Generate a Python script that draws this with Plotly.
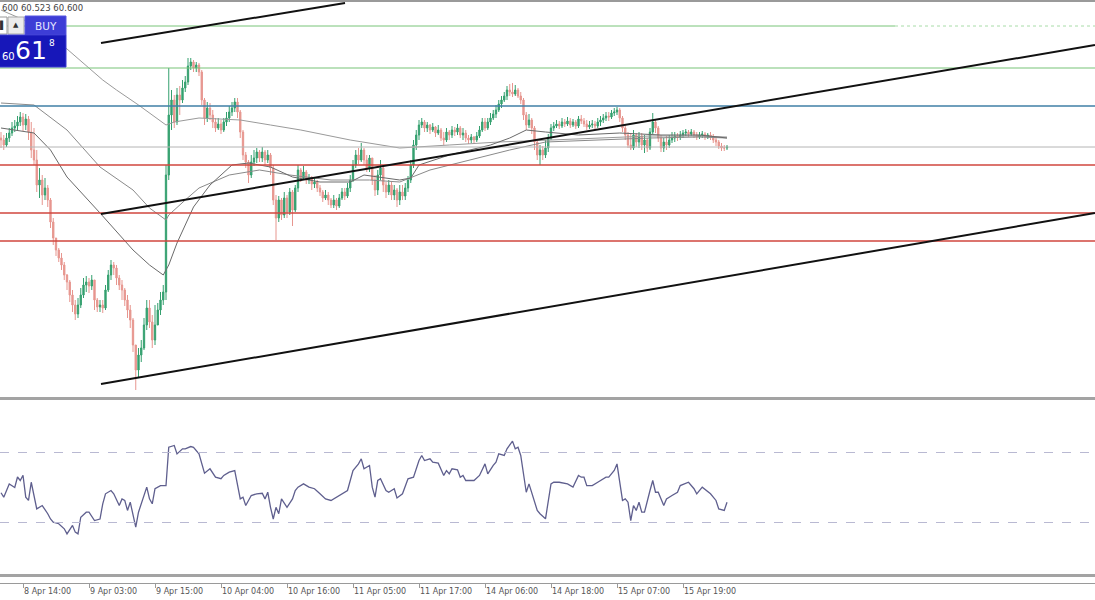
import plotly.graph_objects as go

W, H = 1095, 600

# ---------------- data (M30 bars, index 0 = first visible bar) ----------------
open_first = 60.74
close = [
    60.70, 60.60, 60.74, 60.84, 60.94, 60.98, 61.06, 61.16, 61.00, 61.12,
    60.86, 60.50, 60.30, 59.80, 59.90, 59.60, 59.74, 59.50, 59.06, 58.74,
    58.50, 58.34, 58.20, 58.00, 57.86, 57.60, 57.40, 57.22, 57.40, 57.60,
    57.80, 57.86, 57.78, 57.90, 57.50, 57.36, 57.40, 57.34, 57.70, 58.00,
    58.20, 58.14, 57.94, 57.80, 57.70, 57.50, 57.30, 57.10, 56.60, 56.10,
    56.40, 56.54, 57.00, 57.34, 57.06, 56.70, 57.00, 57.30, 57.50, 57.66,
    60.00, 61.20, 61.50, 61.06, 61.60, 61.50, 61.74, 61.86, 62.18, 62.26,
    62.14, 62.20, 62.06, 61.50, 61.14, 61.34, 61.20, 61.06, 60.94, 61.02,
    60.90, 61.06, 61.14, 61.26, 61.34, 61.46, 61.26, 60.86, 60.40, 60.26,
    60.00, 60.26, 60.34, 60.46, 60.34, 60.46, 60.30, 60.40, 60.14, 59.50,
    59.14, 59.50, 59.20, 59.54, 59.26, 59.66, 59.30, 59.74, 60.10, 59.94,
    60.06, 59.90, 59.94, 59.82, 59.86, 59.74, 59.66, 59.54, 59.60, 59.50,
    59.40, 59.50, 59.38, 59.54, 59.66, 59.58, 59.74, 59.90, 60.20, 60.40,
    60.30, 60.50, 60.30, 60.14, 60.34, 59.90, 59.70, 60.00, 60.14, 59.80,
    59.66, 59.80, 59.60, 59.70, 59.50, 59.66, 59.58, 59.74, 59.90, 60.20,
    60.60, 60.80, 61.00, 61.06, 60.94, 61.00, 60.90, 60.96, 60.84, 60.90,
    60.74, 60.70, 60.86, 60.80, 60.90, 60.86, 60.94, 60.80, 60.84, 60.74,
    60.70, 60.76, 60.70, 60.78, 60.90, 61.06, 60.94, 61.06, 61.14, 61.22,
    61.30, 61.42, 61.50, 61.58, 61.70, 61.66, 61.62, 61.70, 61.58, 61.50,
    61.20, 61.00, 61.10, 60.94, 60.66, 60.40, 60.50, 60.40, 60.54, 60.74,
    60.94, 60.98, 61.02, 60.98, 61.06, 61.02, 61.08, 61.00, 61.06, 60.98,
    61.12, 61.08, 61.02, 60.96, 61.00, 61.02, 60.98, 61.06, 61.10, 61.14,
    61.18, 61.16, 61.24, 61.26, 61.30, 61.14, 60.94, 60.80, 60.60, 60.54,
    60.80, 60.66, 60.78, 60.60, 60.70, 60.54, 60.86, 61.06, 60.94, 60.74,
    60.54, 60.66, 60.60, 60.70, 60.74, 60.78, 60.76, 60.80, 60.84, 60.86,
    60.82, 60.86, 60.80, 60.76, 60.80, 60.82, 60.76, 60.80, 60.76, 60.70,
    60.66, 60.58, 60.54, 60.54, 60.56,
]
high = [
    60.86, 60.80, 60.84, 60.94, 61.06, 61.10, 61.18, 61.26, 61.24, 61.22,
    61.18, 61.06, 60.94, 60.50, 60.14, 60.00, 59.94, 59.80, 59.54, 59.14,
    58.74, 58.54, 58.44, 58.26, 58.02, 57.90, 57.70, 57.50, 57.54, 57.74,
    57.94, 57.98, 57.94, 58.00, 57.90, 57.54, 57.50, 57.50, 57.80, 58.10,
    58.30, 58.26, 58.20, 58.00, 57.90, 57.74, 57.60, 57.40, 57.14, 56.60,
    56.54, 56.70, 57.14, 57.50, 57.50, 57.20, 57.40, 57.44, 57.66, 57.80,
    60.20, 62.14, 61.70, 61.60, 61.74, 61.78, 61.90, 61.98, 62.34, 62.34,
    62.30, 62.26, 62.24, 62.10, 61.54, 61.46, 61.44, 61.30, 61.14, 61.14,
    61.10, 61.14, 61.26, 61.38, 61.46, 61.54, 61.54, 61.30, 60.90, 60.46,
    60.30, 60.40, 60.50, 60.54, 60.50, 60.56, 60.50, 60.50, 60.44, 60.20,
    59.60, 59.58, 59.54, 59.66, 59.60, 59.74, 59.70, 59.80, 60.20, 60.14,
    60.18, 60.10, 60.02, 59.98, 59.94, 59.90, 59.80, 59.70, 59.70, 59.66,
    59.54, 59.60, 59.54, 59.62, 59.74, 59.74, 59.84, 60.00, 60.30, 60.50,
    60.54, 60.64, 60.54, 60.40, 60.40, 60.34, 60.00, 60.10, 60.30, 60.20,
    59.86, 59.90, 59.86, 59.80, 59.74, 59.80, 59.80, 59.84, 59.98, 60.30,
    60.70, 60.90, 61.10, 61.14, 61.10, 61.06, 61.02, 61.04, 60.98, 61.00,
    60.94, 60.86, 60.94, 60.90, 60.98, 60.96, 61.02, 60.98, 60.94, 60.90,
    60.80, 60.82, 60.78, 60.86, 60.98, 61.14, 61.14, 61.14, 61.24, 61.30,
    61.40, 61.50, 61.58, 61.66, 61.78, 61.82, 61.84, 61.80, 61.74, 61.66,
    61.54, 61.26, 61.22, 61.14, 60.98, 60.70, 60.60, 60.58, 60.70, 60.82,
    61.02, 61.06, 61.10, 61.08, 61.14, 61.12, 61.16, 61.14, 61.12, 61.10,
    61.18, 61.20, 61.14, 61.10, 61.08, 61.10, 61.08, 61.14, 61.18, 61.22,
    61.26, 61.26, 61.30, 61.34, 61.36, 61.34, 61.18, 61.00, 60.86, 60.82,
    60.90, 60.84, 60.86, 60.84, 60.80, 60.74, 60.94, 61.24, 61.12, 60.98,
    60.80, 60.74, 60.78, 60.80, 60.86, 60.86, 60.84, 60.88, 60.90, 60.92,
    60.90, 60.92, 60.90, 60.86, 60.86, 60.88, 60.86, 60.84, 60.86, 60.82,
    60.76, 60.70, 60.64, 60.60, 60.60,
]
low = [
    60.54, 60.50, 60.56, 60.66, 60.78, 60.86, 60.90, 60.98, 60.88, 60.90,
    60.70, 60.34, 60.20, 59.66, 59.54, 59.40, 59.50, 59.36, 58.94, 58.60,
    58.38, 58.26, 58.10, 57.90, 57.70, 57.46, 57.26, 57.10, 57.14, 57.34,
    57.54, 57.66, 57.64, 57.70, 57.30, 57.26, 57.26, 57.24, 57.30, 57.66,
    57.90, 58.00, 57.80, 57.70, 57.50, 57.38, 57.14, 56.94, 56.46, 55.70,
    55.94, 56.26, 56.50, 56.90, 56.94, 56.54, 56.60, 57.00, 57.20, 57.40,
    57.50, 59.90, 60.90, 60.94, 61.00, 61.20, 61.44, 61.66, 61.80, 62.10,
    62.06, 62.06, 61.98, 61.40, 61.00, 61.06, 61.10, 60.94, 60.86, 60.90,
    60.82, 60.86, 60.98, 61.06, 61.18, 61.26, 61.14, 60.74, 60.30, 60.14,
    59.84, 59.94, 60.18, 60.24, 60.26, 60.26, 60.20, 60.24, 60.00, 59.40,
    58.70, 59.06, 59.10, 59.14, 59.14, 59.20, 58.98, 59.26, 59.66, 59.86,
    59.90, 59.82, 59.82, 59.70, 59.74, 59.66, 59.58, 59.46, 59.50, 59.40,
    59.34, 59.34, 59.30, 59.34, 59.50, 59.50, 59.54, 59.66, 59.86, 60.14,
    60.22, 60.26, 60.20, 60.06, 60.06, 59.80, 59.58, 59.60, 59.90, 59.66,
    59.54, 59.60, 59.50, 59.50, 59.36, 59.40, 59.50, 59.50, 59.66, 59.84,
    60.14, 60.50, 60.70, 60.94, 60.86, 60.86, 60.82, 60.86, 60.76, 60.80,
    60.68, 60.60, 60.66, 60.70, 60.74, 60.78, 60.80, 60.74, 60.70, 60.66,
    60.62, 60.64, 60.62, 60.66, 60.74, 60.86, 60.88, 60.90, 61.00, 61.10,
    61.14, 61.26, 61.34, 61.46, 61.50, 61.58, 61.56, 61.58, 61.54, 61.42,
    61.10, 60.90, 60.94, 60.82, 60.50, 60.30, 60.20, 60.30, 60.34, 60.46,
    60.70, 60.88, 60.94, 60.92, 60.94, 60.96, 60.98, 60.94, 60.96, 60.92,
    60.94, 61.02, 60.96, 60.90, 60.92, 60.94, 60.92, 60.94, 60.98, 61.04,
    61.08, 61.08, 61.12, 61.18, 61.20, 61.06, 60.86, 60.70, 60.54, 60.50,
    60.50, 60.56, 60.54, 60.50, 60.44, 60.46, 60.50, 60.82, 60.84, 60.66,
    60.46, 60.46, 60.50, 60.54, 60.64, 60.66, 60.68, 60.70, 60.74, 60.78,
    60.76, 60.78, 60.74, 60.70, 60.72, 60.74, 60.70, 60.72, 60.70, 60.64,
    60.58, 60.52, 60.48, 60.48, 60.50,
]
bars = list(range(len(close)))
opens = [open_first] + close[:-1]

# moving averages (read at sample bars)
ma_fast_bar = [0, 12, 18, 24, 36, 48, 54, 59, 61, 64, 70, 76, 84, 90, 98, 106, 116, 127, 132,
               138, 145, 149, 152, 163, 178, 185, 191, 198, 210, 225, 240, 254, 264]
ma_fast_val = [60.94, 60.84, 60.50, 59.96, 59.24, 58.50, 58.20, 58.00, 58.20, 58.64, 59.36,
               59.80, 60.20, 60.24, 60.16, 59.96, 59.86, 59.86, 60.00, 59.96, 59.90, 59.94,
               60.20, 60.40, 60.60, 60.74, 60.90, 60.86, 60.80, 60.84, 60.80, 60.80, 60.74]
ma_mid_bar = [0, 12, 24, 36, 48, 54, 60, 61, 67, 72, 83, 94, 105, 120, 134, 145, 156, 170,
              185, 198, 218, 236, 254, 264]
ma_mid_val = [61.44, 61.40, 60.90, 60.16, 59.70, 59.34, 59.10, 59.20, 59.50, 59.74, 60.00,
              60.10, 60.00, 59.90, 59.90, 59.86, 60.10, 60.30, 60.50, 60.66, 60.70, 60.74,
              60.76, 60.74]
ma_slow_bar = [0, 10, 24, 37, 42, 50, 60, 63, 72, 87, 98, 109, 127, 145, 163, 181, 200, 218,
               236, 254, 264]
ma_slow_val = [63.30, 63.06, 62.52, 61.90, 61.70, 61.40, 61.00, 61.06, 61.14, 61.10, 61.00,
               60.90, 60.70, 60.54, 60.60, 60.66, 60.70, 60.74, 60.78, 60.78, 60.76]

# RSI (read at sample bars)
rsi_bar = [0, 1, 3, 5, 6, 7, 8, 9, 10, 11, 13, 14, 15, 17, 18, 19, 21, 23, 24, 26, 27, 28, 29,
           31, 32, 34, 36, 37, 38, 40, 41, 43, 44, 45, 46, 47, 49, 50, 53, 54, 55, 56, 58, 60,
           61, 63, 64, 66, 67, 69, 70, 72, 74, 76, 78, 80, 81, 83, 85, 87, 88, 89, 91, 93, 95,
           96, 97, 98, 99, 100, 101, 102, 104, 106, 107, 108, 110, 112, 114, 116, 118, 120,
           123, 126, 128, 130, 131, 132, 134, 135, 136, 137, 138, 140, 141, 143, 144, 146,
           148, 150, 152, 153, 154, 156, 157, 159, 161, 162, 163, 164, 166, 167, 168, 169,
           172, 174, 176, 177, 179, 180, 181, 183, 184, 186, 187, 188, 189, 191, 192, 195,
           196, 198, 200, 201, 203, 206, 208, 210, 211, 212, 213, 215, 217, 218, 220, 221,
           223, 224, 226, 227, 228, 229, 230, 231, 232, 233, 234, 236, 237, 238, 239, 241,
           242, 244, 246, 247, 249, 250, 252, 253, 255, 257, 258, 260, 261, 263, 264]
rsi_val = [47, 44.5, 52, 50, 56, 54, 57, 44.5, 42.6, 53, 37.8, 38.7, 39.7, 35, 32, 30.2, 29.3,
           26.4, 23.5, 28.3, 24.5, 23.5, 33, 35.9, 35.9, 31.1, 32, 40.7, 46.4, 48.3, 46.4,
           39.7, 43.5, 42.6, 36.9, 41.6, 27.3, 35.9, 50.2, 43.5, 40.7, 49.3, 51.1, 51.1, 73,
           74, 69.2, 72.1, 72.1, 73.4, 73, 69.2, 58.2, 60.7, 55.9, 55, 56.9, 58.8, 59.7, 43.5,
           44.5, 39.7, 45.4, 46.4, 46.7, 43.5, 47.3, 38.7, 32, 38.7, 35, 43.5, 38.7, 43.5,
           48.3, 50.2, 52.1, 50.2, 49.3, 46.4, 43.5, 42.6, 45.4, 48.3, 59.7, 63.5, 66.4, 60.7,
           62.6, 50.2, 44.5, 54, 55, 48.3, 47.3, 49.3, 44, 46.4, 55, 55.9, 65.4, 68.3, 65.4,
           66.4, 64.5, 63.9, 56.9, 59.7, 57.8, 60.7, 60.1, 55.9, 56.9, 54, 54, 56.9, 63.5,
           57.8, 62.6, 64.5, 69.2, 68.3, 72.1, 76.5, 72.1, 73, 68.3, 47.3, 52.1, 36.9, 35,
           32.1, 52.1, 53, 53, 52.1, 50.2, 56.9, 55.9, 55.9, 51.1, 51.1, 53, 54, 55.9, 55.9,
           59.7, 63.5, 42.6, 43.5, 41.6, 31.1, 39.7, 36.9, 41.6, 35.9, 35.9, 48.3, 54, 47.3,
           47.3, 39.7, 43.5, 45.4, 47.3, 51.1, 52.1, 53, 49.3, 46.4, 50.2, 47.3, 46.4, 42.6,
           37.8, 36.9, 41.6]
rsi_levels = [70, 30]

# horizontal levels and channel lines (price units)
green_levels = [62.98, 62.14]
blue_levels = [61.38]
gray_levels = [60.56]
red_levels = [60.20, 59.24, 58.68]
trend_x0 = [36.36, 36.36, 36.36]
trend_y0 = [62.64, 59.22, 55.82]
trend_x1 = [125.1, 397.8, 397.8]
trend_y1 = [63.44, 62.60, 59.24]

tick_bars = [8, 32, 56, 80, 104, 128, 152, 176, 200, 224, 248]
tick_text = ["8 Apr 14:00", "9 Apr 03:00", "9 Apr 15:00", "10 Apr 04:00", "10 Apr 16:00",
             "11 Apr 05:00", "11 Apr 17:00", "14 Apr 06:00", "14 Apr 18:00", "15 Apr 07:00",
             "15 Apr 19:00"]

# ---------------- figure ----------------
def px(xp):
    return xp / W

def py(yp):
    return 1 - yp / H

fig = go.Figure()
fig.add_trace(go.Candlestick(
    x=bars, open=opens, high=high, low=low, close=close,
    increasing=dict(line=dict(color="#35a06f", width=1), fillcolor="#35a06f"),
    decreasing=dict(line=dict(color="#e7968f", width=1), fillcolor="#e7968f"),
    whiskerwidth=0, xaxis="x", yaxis="y", hoverinfo="skip"))
fig.add_trace(go.Scatter(x=ma_slow_bar, y=ma_slow_val, mode="lines",
                         line=dict(color="#9a9a9a", width=1), yaxis="y", hoverinfo="skip"))
fig.add_trace(go.Scatter(x=ma_mid_bar, y=ma_mid_val, mode="lines",
                         line=dict(color="#8a8a8a", width=1), yaxis="y", hoverinfo="skip"))
fig.add_trace(go.Scatter(x=ma_fast_bar, y=ma_fast_val, mode="lines",
                         line=dict(color="#6a6a6a", width=1), yaxis="y", hoverinfo="skip"))
fig.add_trace(go.Scatter(x=rsi_bar, y=rsi_val, mode="lines",
                         line=dict(color="#5f5f8e", width=1.3), yaxis="y2", hoverinfo="skip"))

shapes = []
for i, lv in enumerate(green_levels):
    if i == 0:
        shapes.append(dict(type="line", xref="paper", yref="y", x0=0, x1=px(895), y0=lv, y1=lv,
                           line=dict(color="#78c478", width=1)))
        shapes.append(dict(type="line", xref="paper", yref="y", x0=px(895), x1=1, y0=lv, y1=lv,
                           line=dict(color="#a8dca8", width=1, dash="dot")))
    else:
        shapes.append(dict(type="line", xref="paper", yref="y", x0=0, x1=1, y0=lv, y1=lv,
                           line=dict(color="#78c478", width=1.2)))
for lv in blue_levels:
    shapes.append(dict(type="line", xref="paper", yref="y", x0=0, x1=1, y0=lv, y1=lv,
                       line=dict(color="#3f7fa6", width=1.5)))
for lv in gray_levels:
    shapes.append(dict(type="line", xref="paper", yref="y", x0=0, x1=1, y0=lv, y1=lv,
                       line=dict(color="#b4b4b4", width=1)))
for lv in red_levels:
    shapes.append(dict(type="line", xref="paper", yref="y", x0=0, x1=1, y0=lv, y1=lv,
                       line=dict(color="#d0463e", width=1.4)))
for a, b, c, d in zip(trend_x0, trend_y0, trend_x1, trend_y1):
    shapes.append(dict(type="line", xref="x", yref="y", x0=a, y0=b, x1=c, y1=d,
                       line=dict(color="#111111", width=2)))
for lv in rsi_levels:
    shapes.append(dict(type="line", xref="paper", yref="y2", x0=0, x1=1, y0=lv, y1=lv,
                       line=dict(color="#b9b9d2", width=1, dash="dash")))
# window separators
shapes.append(dict(type="line", xref="paper", yref="paper", x0=0, x1=1, y0=py(1), y1=py(1),
                   line=dict(color="#9a9a9a", width=2)))
shapes.append(dict(type="line", xref="paper", yref="paper", x0=0, x1=1, y0=py(398.5), y1=py(398.5),
                   line=dict(color="#a3a3a3", width=3)))
shapes.append(dict(type="line", xref="paper", yref="paper", x0=0, x1=1, y0=py(575.5), y1=py(575.5),
                   line=dict(color="#a3a3a3", width=3)))
# one-click trading panel
shapes.append(dict(type="rect", xref="paper", yref="paper", x0=px(-2), x1=px(7), y0=py(34), y1=py(17),
                   fillcolor="#ffffff", line=dict(color="#9a9a9a", width=1)))
shapes.append(dict(type="rect", xref="paper", yref="paper", x0=px(8), x1=px(24), y0=py(34), y1=py(17),
                   fillcolor="#ececec", line=dict(color="#a8a8a8", width=1)))
shapes.append(dict(type="rect", xref="paper", yref="paper", x0=px(25), x1=px(66), y0=py(35), y1=py(16),
                   fillcolor="#3d3dd6", line=dict(color="#5656e0", width=1)))
shapes.append(dict(type="rect", xref="paper", yref="paper", x0=px(-2), x1=px(66), y0=py(67), y1=py(35),
                   fillcolor="#1717b9", line=dict(color="#3a3ad0", width=1)))


def note(text, x, y, size, color, xanchor="center", family="DejaVu Sans"):
    return dict(text=text, x=px(x), y=py(y), xref="paper", yref="paper", xanchor=xanchor,
                yanchor="middle", showarrow=False, font=dict(family=family, size=size, color=color))


annotations = [
    note("600 60.523 60.600", 0, 8, 8.5, "#444444", xanchor="left"),
    note("▲", 16, 25.5, 7, "#333333"),
    note("▌", 2, 25.5, 8, "#333333"),
    note("BUY", 45.5, 26, 10.5, "#e6e6ff"),
    note("60", 8.5, 57, 10, "#ffffff"),
    note("61", 31, 51, 25, "#ffffff"),
    note("8", 52, 43, 9, "#ffffff"),
]

fig.update_layout(
    width=W, height=H, margin=dict(l=0, r=0, t=0, b=0, pad=0, autoexpand=False),
    paper_bgcolor="#ffffff", plot_bgcolor="#ffffff", showlegend=False,
    shapes=shapes, annotations=annotations,
    xaxis=dict(range=[-0.3636, 397.82], anchor="free", position=py(583), showgrid=False,
               zeroline=False, showline=True, linecolor="#9a9a9a", linewidth=1,
               ticks="outside", ticklen=4, tickcolor="#9a9a9a", tickvals=tick_bars,
               ticktext=tick_text, ticklabelposition="outside right",
               tickfont=dict(family="DejaVu Sans", size=8, color="#555555"),
               rangeslider=dict(visible=False), fixedrange=True, automargin=False),
    yaxis=dict(domain=[py(397), 1], range=[55.56, 63.50], showgrid=False, zeroline=False,
               showticklabels=False, fixedrange=True),
    yaxis2=dict(domain=[py(575), py(400)], range=[0, 100], showgrid=False, zeroline=False,
                showticklabels=False, fixedrange=True),
)

fig.write_html(
    "out.html",
    config={"displayModeBar": False},
    post_script="document.body.style.margin='0px';document.body.style.overflow='hidden';",
)
